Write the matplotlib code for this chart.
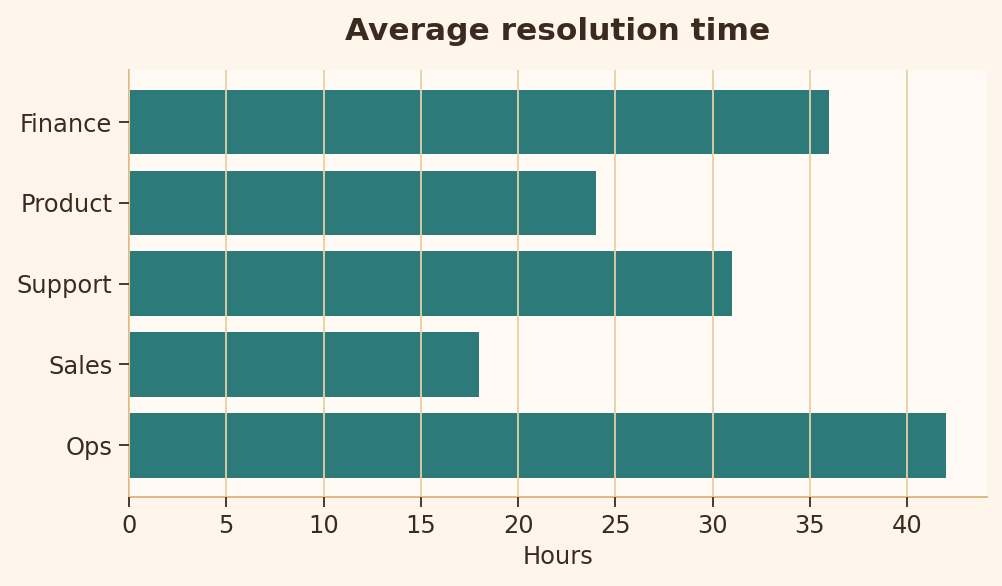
import matplotlib
matplotlib.use("Agg")
import matplotlib.pyplot as plt

categories = ["Ops", "Sales", "Support", "Product", "Finance"]
hours = [42, 18, 31, 24, 36]

text_color = "#3b2a20"
fig = plt.figure(figsize=(10.03, 5.86), dpi=100, facecolor="#fff6eb")
ax = fig.add_axes([0.1286, 0.152, 0.8555, 0.728])
ax.set_facecolor("#fffaf3")
ax.barh(categories, hours, height=0.8, color="#2d7a7b", zorder=1)
ax.set_axisbelow(False)
ax.grid(axis="x", color="#e6cfa6", linewidth=1.3, zorder=2)
ax.grid(axis="y", visible=False)
for s in ["top", "right"]:
    ax.spines[s].set_visible(False)
for s in ["left", "bottom"]:
    ax.spines[s].set_color("#dfb47e")
    ax.spines[s].set_linewidth(1.3)
ax.tick_params(colors=text_color, labelsize=17.4, length=7, width=1.3, pad=5)
ax.set_xticks(range(0, 45, 5))
ax.set_xlabel("Hours", fontsize=17.4, color=text_color, labelpad=5)
ax.set_title("Average resolution time", fontsize=22.5, fontweight="bold", color=text_color, pad=22)
fig.savefig("out.png", dpi=100, facecolor=fig.get_facecolor())
